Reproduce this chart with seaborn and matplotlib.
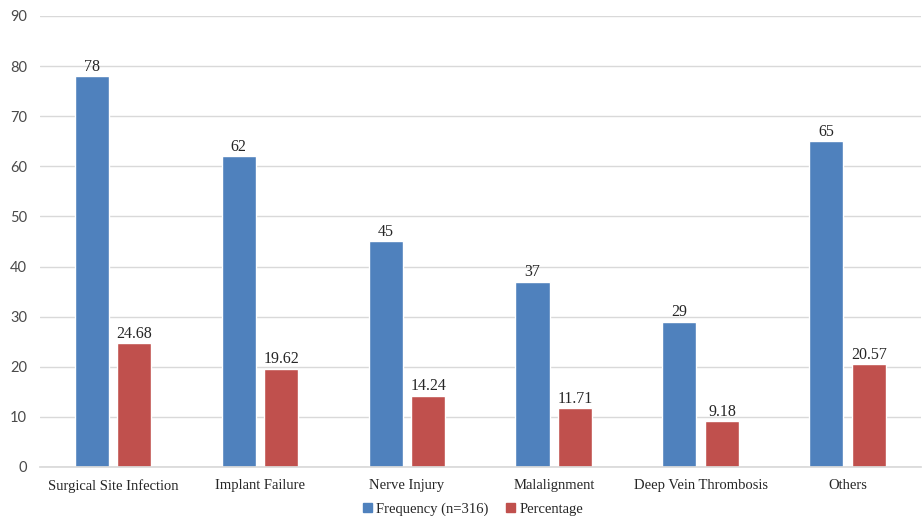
import matplotlib
matplotlib.use("Agg")
import matplotlib.pyplot as plt
import seaborn as sns
import pandas as pd

categories = ["Surgical Site Infection", "Implant Failure", "Nerve Injury",
              "Malalignment", "Deep Vein Thrombosis", "Others"]
frequency = [78, 62, 45, 37, 29, 65]
percentage = [24.68, 19.62, 14.24, 11.71, 9.18, 20.57]
series_names = ["Frequency (n=316)", "Percentage"]
freq_labels = ["78", "62", "45", "37", "29", "65"]
pct_labels = ["24.68", "19.62", "14.24", "11.71", "9.18", "20.57"]

df = pd.DataFrame({
    "Category": categories * 2,
    "Series": [series_names[0]] * len(categories) + [series_names[1]] * len(categories),
    "Value": frequency + percentage,
})

sns.set_theme(style="white")
serif = ["Liberation Serif", "DejaVu Serif"]
sans = ["Lato", "DejaVu Sans"]

fig = plt.figure(figsize=(9.22, 5.16), dpi=100)
ax = fig.add_axes([0.043, 0.095, 0.956, 0.874])

sns.barplot(data=df, x="Category", y="Value", hue="Series",
            palette=["#4F81BD", "#C0504D"], width=0.58, gap=0.2,
            order=categories, hue_order=series_names, ax=ax, saturation=1)

ax.set_ylim(0, 90)
ax.set_yticks(range(0, 91, 10))
ax.yaxis.grid(True, color="#D9D9D9", linewidth=1)
ax.set_axisbelow(True)
for s in ["top", "right", "left"]:
    ax.spines[s].set_visible(False)
ax.spines["bottom"].set_color("#D9D9D9")
ax.set_xlabel("")
ax.set_ylabel("")
ax.tick_params(axis="both", length=0)
for lab in ax.get_yticklabels():
    lab.set_fontfamily(sans)
    lab.set_fontsize(10.5)
    lab.set_color("#4a4a4a")
for lab in ax.get_xticklabels():
    lab.set_fontfamily(serif)
    lab.set_fontsize(10.5)
    lab.set_color("#262626")
ax.tick_params(axis="x", pad=9)
ax.tick_params(axis="y", pad=9)

for cont, labels in zip(ax.containers, [freq_labels, pct_labels]):
    ax.bar_label(cont, labels=labels, padding=1, fontsize=11.5,
                 fontfamily=serif, color="#262626")

ax.legend_.remove()
handles = [plt.Rectangle((0, 0), 1, 1, color=c) for c in ["#4F81BD", "#C0504D"]]
leg = fig.legend(handles, series_names, loc="lower center",
                 bbox_to_anchor=(0.513, -0.025), ncol=2,
                 frameon=False, handlelength=0.6, handleheight=0.6,
                 handletextpad=0.3, columnspacing=1.2,
                 prop={"family": serif, "size": 10.5})
for t in leg.get_texts():
    t.set_color("#262626")

fig.savefig("out.png", dpi=100)
